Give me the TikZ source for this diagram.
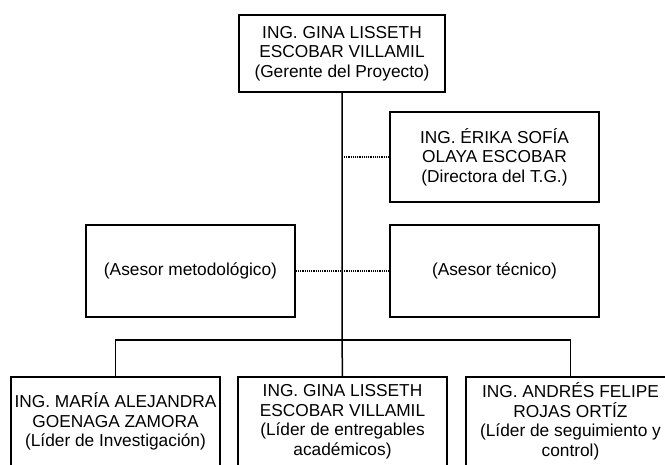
\documentclass[tikz,border=0pt]{standalone}
\usepackage{fontspec}
\setmainfont{Liberation Sans}
\usepackage{tikz}
\usetikzlibrary{positioning}

\begin{document}
\begin{tikzpicture}[x=1pt,y=-1pt,
		caja/.style={draw,line width=1.6pt,align=center,minimum width=209pt,minimum height=90pt,inner sep=2pt,font=\fontsize{17.3}{19.5}\selectfont},
		linea/.style={line width=1.5pt},
		punteada/.style={line width=1.2pt,dash pattern=on 1.2pt off 1pt}]
		\useasboundingbox (0,0) rectangle (665,464);
		\clip (0,0) rectangle (665,464);
		\node[caja,minimum width=206pt,minimum height=77pt] (gerente) at (342,53.5) {ING. GINA LISSETH\\ESCOBAR VILLAMIL\\(Gerente del Proyecto)};
		\node[caja] (directora) at (494.5,157) {ING. ÉRIKA SOFÍA\\OLAYA ESCOBAR\\(Directora del T.G.)};
		\node[caja,minimum height=92pt] (metodologico) at (190.5,271) {(Asesor metodológico)};
		\node[caja,minimum height=92pt] (tecnico) at (494.5,271) {(Asesor técnico)};
		\node[caja,minimum height=89pt] (investigacion) at (115.5,421.5) {ING. MARÍA ALEJANDRA\\GOENAGA ZAMORA\\(Líder de Investigación)};
		\node[caja,minimum height=89pt] (entregables) at (342.5,421.5) {ING. GINA LISSETH\\ESCOBAR VILLAMIL\\(Líder de entregables\\académicos)};
		\node[caja,minimum height=89pt] (seguimiento) at (570.5,421.5) {ING. ANDRÉS FELIPE\\ROJAS ORTÍZ\\(Líder de seguimiento y\\control)};
		\coordinate (bus) at (342,340);
		\draw[linea] (gerente.south) -- (bus) -- (entregables.north);
		\draw[linea] (investigacion.north) |- (bus) -| (seguimiento.north);
		\draw[punteada] (directora.west) -- (gerente.south |- directora.west);
		\draw[punteada] (metodologico.east) -- (tecnico.west);
	\end{tikzpicture}
\end{document}
